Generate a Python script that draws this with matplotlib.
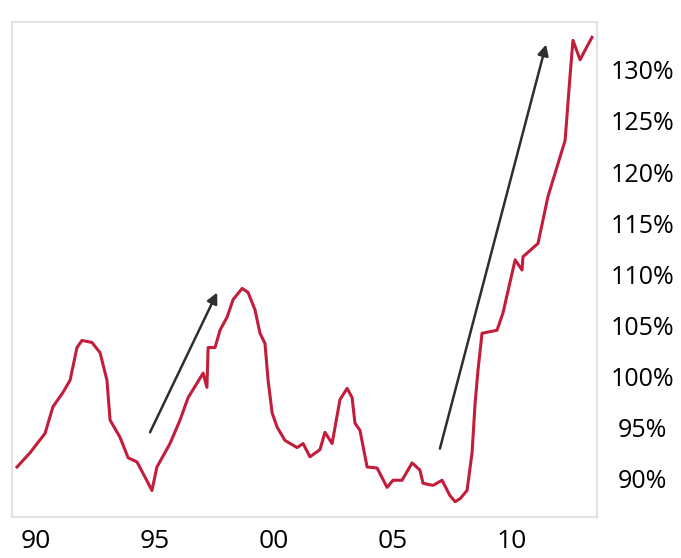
import matplotlib.pyplot as plt

# Data (year, percent)
years = [1989.20, 1989.75, 1990.38, 1990.71, 1991.13, 1991.43, 1991.72, 1991.93,
         1992.35, 1992.69, 1992.98, 1993.11, 1993.53, 1993.87, 1994.24, 1994.58,
         1994.87, 1995.08, 1995.63, 1996.05, 1996.39, 1996.76, 1997.02, 1997.18,
         1997.23, 1997.52, 1997.73, 1998.03, 1998.28, 1998.66, 1998.91, 1999.20,
         1999.41, 1999.62, 1999.75, 1999.92, 2000.13, 2000.46, 2000.97, 2001.22,
         2001.51, 2001.93, 2002.14, 2002.44, 2002.77, 2003.07, 2003.28, 2003.40,
         2003.61, 2003.91, 2004.33, 2004.75, 2005.00, 2005.38, 2005.80, 2006.13,
         2006.26, 2006.68, 2007.06, 2007.39, 2007.61, 2007.82, 2008.11, 2008.32,
         2008.45, 2008.57, 2008.74, 2009.37, 2009.62, 2010.13, 2010.42, 2010.46,
         2011.09, 2011.51, 2012.02, 2012.23, 2012.44, 2012.56, 2012.86, 2013.15,
         2013.36]
values = [91.1, 92.5, 94.4, 97.0, 98.4, 99.6, 102.8, 103.5,
          103.3, 102.3, 99.6, 95.7, 94.0, 92.0, 91.6, 90.1,
          88.8, 91.1, 93.4, 95.7, 97.9, 99.3, 100.3, 98.9,
          102.8, 102.8, 104.5, 105.8, 107.5, 108.6, 108.2, 106.5,
          104.2, 103.2, 99.6, 96.4, 95.0, 93.7, 93.0, 93.4,
          92.1, 92.8, 94.5, 93.4, 97.7, 98.8, 97.9, 95.4,
          94.7, 91.1, 91.0, 89.1, 89.8, 89.8, 91.5, 90.8,
          89.5, 89.3, 89.8, 88.3, 87.7, 88.0, 88.8, 92.5,
          97.4, 100.6, 104.2, 104.5, 106.2, 111.4, 110.4, 111.7,
          113.0, 117.6, 121.5, 123.1, 129.5, 132.9, 131.0, 132.3,
          133.2]

# Trend arrows: (start year, start value) -> (end year, end value)
arrow_starts = [(1994.79, 94.5), (2006.97, 92.9)]
arrow_ends = [(1997.61, 108.2), (2011.43, 132.5)]

xtick_years = [1990, 1995, 2000, 2005, 2010]
xtick_labels = ["90", "95", "00", "05", "10"]
ytick_values = [90, 95, 100, 105, 110, 115, 120, 125, 130]

plt.rcParams['font.family'] = ['Open Sans', 'DejaVu Sans']

fig = plt.figure(figsize=(6.81, 5.58), dpi=100)
ax = fig.add_axes([12/681, 41/558, 585/681, 495/558])

ax.plot(years, values, color="#c21d3a", linewidth=2.2, solid_joinstyle="round")

for (x0, y0), (x1, y1) in zip(arrow_starts, arrow_ends):
    ax.annotate("", xy=(x1, y1), xytext=(x0, y0),
                arrowprops=dict(arrowstyle="-|>", color="#2e2e2e", lw=1.8,
                                mutation_scale=16, shrinkA=0, shrinkB=0))

ax.set_xlim(1988.99, 2013.57)
ax.set_ylim(86.2, 134.7)

ax.set_xticks(xtick_years)
ax.set_xticklabels(xtick_labels, fontsize=19)
ax.tick_params(axis="x", length=0, pad=9)

ax.yaxis.tick_right()
ax.set_yticks(ytick_values)
ax.set_yticklabels(["{}%".format(v) for v in ytick_values], fontsize=18)
ax.tick_params(axis="y", length=0, pad=33)
for lbl in ax.get_yticklabels():
    lbl.set_horizontalalignment("center")

for side in ["top", "bottom", "left", "right"]:
    ax.spines[side].set_color("#e2e2e2")
    ax.spines[side].set_linewidth(1.5)

fig.savefig("out.png", dpi=100)
